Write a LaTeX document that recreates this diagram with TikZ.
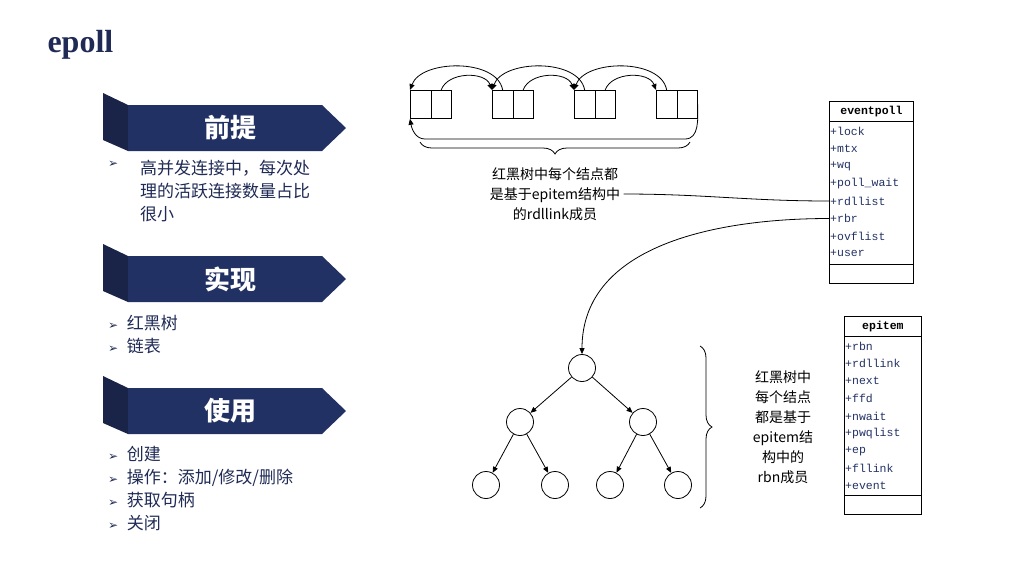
\documentclass[tikz,border=0pt]{standalone}
\usepackage{fontspec}
\setmainfont{Liberation Serif}
\newfontfamily\cjk{Noto Sans CJK SC}
\newfontfamily\djsym{DejaVu Sans}
\newfontfamily\mono{Liberation Mono}
\usetikzlibrary{decorations.pathreplacing,arrows.meta}
\definecolor{navy}{HTML}{223163}
\definecolor{navyd}{HTML}{1A2448}
\definecolor{txt}{HTML}{1F2A55}
\newcommand{\bl}{{\djsym\fontsize{12}{14}\selectfont ➢}\enspace}
\begin{document}
\begin{tikzpicture}[x=1pt,y=-1pt,
  cell/.style={draw,line width=0.8pt,minimum width=20.5pt,minimum height=28pt,inner sep=0pt},
  nd/.style={draw,line width=0.8pt,circle,minimum size=27pt,inner sep=0pt},
  arr/.style={-{Triangle[length=6pt,width=5pt]},line width=0.8pt},
  bul/.style={anchor=north west,font=\cjk\fontsize{17}{23}\selectfont,text=txt,align=left,inner sep=0pt},
  fld/.style={anchor=west,font=\mono\fontsize{11.5}{13}\selectfont,inner sep=1pt,text=navy},
  lbl/.style={font=\cjk\fontsize{14}{20}\selectfont,align=center}]
\useasboundingbox (0,0) rectangle (1025,566);
\node[anchor=west,font=\bfseries\fontsize{32}{36}\selectfont,text=txt] (title) at (44,45) {epoll};
% banners
\foreach \y/\t/\n in {93/前提/b1,244/实现/b2,376/使用/b3}{
  \fill[navyd] (103,\y) -- (128,\y+12) -- (128,\y+58) -- (103,\y+47) -- cycle;
  \fill[navy] (128,\y+12) -- (322,\y+12) -- (346,\y+35) -- (322,\y+58) -- (128,\y+58) -- cycle;
  \node[text=white,font=\cjk\bfseries\fontsize{26}{30}\selectfont] (\n) at (230,\y+35) {\t};
}
\node[bul] (p1) at (108,161) {{\djsym\fontsize{12}{14}\selectfont ➢}};
\node[bul] (t1) at (140,160) {高并发连接中，每次处\\理的活跃连接数量占比\\很小};
\node[bul] (t2) at (108,315) {\bl 红黑树\\\bl 链表};
\node[bul] (t3) at (108,446) {\bl 创建\\\bl 操作：添加/修改/删除\\\bl 获取句柄\\\bl 关闭};
% linked list
\foreach \i/\x in {1/410,2/492,3/574,4/656}{
  \node[cell,anchor=north west] (a\i) at (\x,90) {};
  \node[cell,anchor=north west] (c\i) at (\x+20.5,90) {};
}
\foreach \i/\j in {1/2,2/3,3/4}{
  \draw[arr] (c\i.north) to[out=70,in=110,looseness=1] (a\j.north west);
  \draw[arr] (a\j.north) to[out=100,in=70,looseness=0.9] (a\i.north west);
}
\draw[arr] (c4.east) to[out=-90,in=0] (685,139) -- (425,139) to[out=180,in=-80] (a1.south west);
\draw[decorate,decoration={brace,amplitude=12pt},line width=0.8pt] (690,142) -- (420,142);
\node[lbl] (ll) at (555,194) {红黑树中每个结点都\\是基于epitem结构中\\的rdllink成员};
% eventpoll
\node[draw,line width=0.8pt,minimum width=84pt,minimum height=20pt,anchor=north west,font=\mono\bfseries\fontsize{11.5}{13}\selectfont] (ep) at (829,101) {eventpoll};
\draw[line width=0.8pt] (829,121) rectangle (913,264) (829,264) rectangle (913,283);
\foreach \k/\f in {0/lock,1/mtx,2/wq,3/poll\_wait,4/rdllist,5/rbr,6/ovflist,7/user}{
  \node[fld] (e\k) at (829,131+17.5*\k) {+\f};
}
\draw[line width=0.8pt] (e4.west) to[out=180,in=0] (ll.east);
% tree
\node[nd] (r) at (582,368) {};
\node[nd] (l) at (520,422) {};
\node[nd] (rr) at (643,422) {};
\node[nd] (l1) at (486,485) {};
\node[nd] (l2) at (555,485) {};
\node[nd] (l3) at (610,485) {};
\node[nd] (l4) at (678,485) {};
\draw[arr] (r) -- (l); \draw[arr] (r) -- (rr);
\draw[arr] (l) -- (l1); \draw[arr] (l) -- (l2);
\draw[arr] (rr) -- (l3); \draw[arr] (rr) -- (l4);
\draw[arr] (e5.west) to[out=180,in=90] (r.north);
\draw[decorate,decoration={brace,amplitude=12pt},line width=0.8pt] (700,346) -- (700,508);
\node[lbl] (tl) at (783,427) {红黑树中\\每个结点\\都是基于\\epitem结\\构中的\\rbn成员};
% epitem
\node[draw,line width=0.8pt,minimum width=77pt,minimum height=20pt,anchor=north west,font=\mono\bfseries\fontsize{11.5}{13}\selectfont] (ei) at (844,316) {epitem};
\draw[line width=0.8pt] (844,336) rectangle (921,495) (844,495) rectangle (921,514);
\foreach \k/\f in {0/rbn,1/rdllink,2/next,3/ffd,4/nwait,5/pwqlist,6/ep,7/fllink,8/event}{
  \node[fld] (f\k) at (844,346+17.5*\k) {+\f};
}
\end{tikzpicture}
\end{document}
